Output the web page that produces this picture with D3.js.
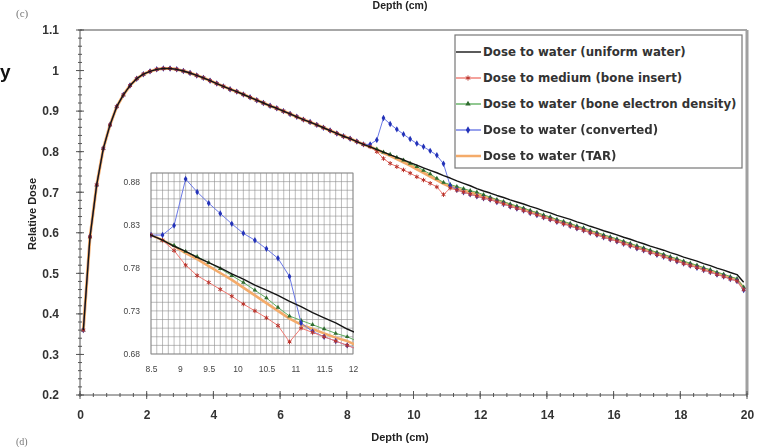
<!DOCTYPE html>
<html>
<head>
<meta charset="utf-8">
<script src="https://cdn.jsdelivr.net/npm/d3@7"></script>
<style>
  body { margin: 0; background: #fff; }
  svg { display: block; filter: blur(0.3px); }
</style>
</head>
<body>
<div id="chart"></div>
<script>
// depth of each point (cm)
const depth = [
  0.1, 0.3, 0.5, 0.7, 0.9, 1.1, 1.3, 1.5, 1.7, 1.9,
  2.1, 2.3, 2.5, 2.7, 2.9, 3.1, 3.3, 3.5, 3.7, 3.9,
  4.1, 4.3, 4.5, 4.7, 4.9, 5.1, 5.3, 5.5, 5.7, 5.9,
  6.1, 6.3, 6.5, 6.7, 6.9, 7.1, 7.3, 7.5, 7.7, 7.9,
  8.1, 8.3, 8.5, 8.7, 8.9, 9.1, 9.3, 9.5, 9.7, 9.9,
  10.1, 10.3, 10.5, 10.7, 10.9, 11.1, 11.3, 11.5, 11.7, 11.9,
  12.1, 12.3, 12.5, 12.7, 12.9, 13.1, 13.3, 13.5, 13.7, 13.9,
  14.1, 14.3, 14.5, 14.7, 14.9, 15.1, 15.3, 15.5, 15.7, 15.9,
  16.1, 16.3, 16.5, 16.7, 16.9, 17.1, 17.3, 17.5, 17.7, 17.9,
  18.1, 18.3, 18.5, 18.7, 18.9, 19.1, 19.3, 19.5, 19.7, 19.9
];

// all curves overlap before the insert (0.1 - 8.5 cm)
const buildUp = [
  0.360, 0.590, 0.718, 0.808, 0.866, 0.911, 0.940, 0.963, 0.980, 0.991,
  0.998, 1.003, 1.005, 1.005, 1.003, 0.999, 0.994, 0.988, 0.982, 0.975,
  0.968, 0.961, 0.954, 0.948, 0.941, 0.934, 0.927, 0.920, 0.913, 0.907,
  0.900, 0.893, 0.886, 0.879, 0.873, 0.866, 0.859, 0.852, 0.845, 0.838,
  0.832, 0.825, 0.818
];

// 8.7 - 19.9 cm
const waterTail = [
  0.812, 0.805, 0.799, 0.792, 0.786, 0.780, 0.773,
  0.767, 0.760, 0.754, 0.748, 0.741, 0.735, 0.728, 0.722, 0.716, 0.709,
  0.703, 0.698, 0.692, 0.687, 0.681, 0.676, 0.671, 0.665, 0.660, 0.654,
  0.649, 0.643, 0.638, 0.633, 0.627, 0.622, 0.616, 0.611, 0.605, 0.600,
  0.595, 0.589, 0.584, 0.578, 0.573, 0.567, 0.562, 0.557, 0.551, 0.546,
  0.540, 0.535, 0.530, 0.524, 0.519, 0.513, 0.508, 0.502, 0.497, 0.478
];
const mediumTail = [
  0.812, 0.800, 0.783, 0.771, 0.763, 0.755, 0.747,
  0.738, 0.730, 0.722, 0.713, 0.694, 0.710, 0.705, 0.700, 0.695, 0.690,
  0.685, 0.682, 0.676, 0.671, 0.665, 0.660, 0.655, 0.649, 0.644, 0.638,
  0.633, 0.627, 0.622, 0.617, 0.611, 0.606, 0.600, 0.595, 0.589, 0.584,
  0.579, 0.573, 0.568, 0.562, 0.557, 0.551, 0.546, 0.541, 0.535, 0.530,
  0.524, 0.519, 0.514, 0.508, 0.503, 0.497, 0.492, 0.486, 0.481, 0.460
];
const boneDensityTail = [
  0.812, 0.806, 0.799, 0.793, 0.786, 0.779, 0.771,
  0.763, 0.754, 0.745, 0.734, 0.724, 0.719, 0.714, 0.709, 0.704, 0.700,
  0.694, 0.688, 0.682, 0.677, 0.671, 0.666, 0.661, 0.655, 0.650, 0.644,
  0.639, 0.633, 0.628, 0.623, 0.617, 0.612, 0.606, 0.601, 0.595, 0.590,
  0.585, 0.579, 0.574, 0.568, 0.563, 0.557, 0.552, 0.547, 0.541, 0.536,
  0.530, 0.525, 0.520, 0.514, 0.509, 0.503, 0.498, 0.492, 0.487, 0.466
];
const convertedTail = [
  0.818, 0.829, 0.883, 0.868, 0.855, 0.843, 0.831,
  0.820, 0.812, 0.802, 0.791, 0.770, 0.716, 0.706, 0.700, 0.695, 0.690,
  0.685, 0.682, 0.676, 0.671, 0.665, 0.660, 0.655, 0.649, 0.644, 0.638,
  0.633, 0.627, 0.622, 0.617, 0.611, 0.606, 0.600, 0.595, 0.589, 0.584,
  0.579, 0.573, 0.568, 0.562, 0.557, 0.551, 0.546, 0.541, 0.535, 0.530,
  0.524, 0.519, 0.514, 0.508, 0.503, 0.497, 0.492, 0.486, 0.481, 0.459
];
const tarTail = [
  0.812, 0.805, 0.797, 0.790, 0.782, 0.774, 0.766,
  0.757, 0.748, 0.739, 0.730, 0.721, 0.714, 0.709, 0.704, 0.699, 0.695,
  0.689, 0.685, 0.679, 0.674, 0.668, 0.663, 0.658, 0.652, 0.647, 0.641,
  0.636, 0.630, 0.625, 0.620, 0.614, 0.609, 0.603, 0.598, 0.592, 0.587,
  0.582, 0.576, 0.571, 0.565, 0.560, 0.554, 0.549, 0.544, 0.538, 0.533,
  0.527, 0.522, 0.517, 0.511, 0.506, 0.500, 0.495, 0.489, 0.484, 0.463
];

const seriesNames = [
  "Dose to water (uniform water)",
  "Dose to medium (bone insert)",
  "Dose to water (bone electron density)",
  "Dose to water (converted)",
  "Dose to water (TAR)"
];

const xTicks = [0, 2, 4, 6, 8, 10, 12, 14, 16, 18, 20];
const yTicks = [0.2, 0.3, 0.4, 0.5, 0.6, 0.7, 0.8, 0.9, 1.0, 1.1];
const insetXTicks = [8.5, 9, 9.5, 10, 10.5, 11, 11.5, 12];
const insetYTicks = [0.68, 0.73, 0.78, 0.83, 0.88];

// drawing order: TAR band underneath, black water line on top
const series = [
  { name: seriesNames[4], values: buildUp.concat(tarTail), line: "#f4ab6a", width: 3, marker: null },
  { name: seriesNames[2], values: buildUp.concat(boneDensityTail), line: "#62b062", width: 1, marker: d3.symbolTriangle, mark: "#2f6b2f", size: 9 },
  { name: seriesNames[3], values: buildUp.concat(convertedTail), line: "#6b79e6", width: 1, marker: d3.symbolDiamond, mark: "#2332b8", size: 12 },
  { name: seriesNames[1], values: buildUp.concat(mediumTail), line: "#f07a72", width: 1, marker: d3.symbolAsterisk, mark: "#b8322a", size: 14 },
  { name: seriesNames[0], values: buildUp.concat(waterTail), line: "#151515", width: 1.4, marker: null }
];

const width = 761, height = 447;
const svg = d3.select("#chart").append("svg")
    .attr("width", width)
    .attr("height", height)
    .style("font-family", "'Liberation Sans', Arial, sans-serif");

const x = d3.scaleLinear().domain([0, 20]).range([80, 747]);
const y = d3.scaleLinear().domain([0.2, 1.1]).range([395, 30]);

// bits of the neighbouring panels
svg.append("text").attr("x", 400).attr("y", 9).attr("text-anchor", "middle")
    .style("font-size", "10.5px").style("font-weight", "bold").attr("fill", "#222").text("Depth (cm)");
svg.append("text").attr("x", 16).attr("y", 17)
    .style("font-size", "11px").style("font-family", "'Liberation Serif', serif").attr("fill", "#777").text("(c)");
svg.append("text").attr("x", 16).attr("y", 445)
    .style("font-size", "10px").style("font-family", "'Liberation Serif', serif").attr("fill", "#777").text("(d)");
svg.append("text").attr("x", 0).attr("y", 78)
    .style("font-size", "19px").style("font-weight", "bold").attr("fill", "#111").text("y");

// plot frame
svg.append("line").attr("x1", 80).attr("x2", 747).attr("y1", 30).attr("y2", 30)
    .attr("stroke", "#8a8a8a").attr("stroke-width", 1.5);
svg.append("line").attr("x1", 747).attr("x2", 747).attr("y1", 30).attr("y2", 395)
    .attr("stroke", "#a0a0a0").attr("stroke-width", 3);

// axes lines + crossing ticks
const axisG = svg.append("g").attr("stroke", "#555");
axisG.append("line").attr("x1", 80).attr("x2", 80).attr("y1", 30).attr("y2", 395);
axisG.append("line").attr("x1", 80).attr("x2", 747).attr("y1", 395).attr("y2", 395);

axisG.selectAll(".ymin").data(y.ticks(45)).join("line")
    .attr("x1", 78).attr("x2", 82).attr("y1", d => y(d)).attr("y2", d => y(d));
axisG.selectAll(".ymaj").data(yTicks).join("line")
    .attr("x1", 76).attr("x2", 84).attr("y1", d => y(d)).attr("y2", d => y(d));
axisG.selectAll(".xmin").data(d3.range(0, 20.01, 0.4)).join("line")
    .attr("y1", 393).attr("y2", 397).attr("x1", d => x(d)).attr("x2", d => x(d));
axisG.selectAll(".xmaj").data(xTicks).join("line")
    .attr("y1", 391).attr("y2", 399).attr("x1", d => x(d)).attr("x2", d => x(d));

// tick labels
const yAxis = svg.append("g").attr("transform", "translate(62,0)")
    .call(d3.axisLeft(y).tickValues(yTicks).tickSize(0).tickFormat(d => String(+d.toFixed(1))));
const xAxis = svg.append("g").attr("transform", "translate(0,407)")
    .call(d3.axisBottom(x).tickValues(xTicks).tickSize(0));
[xAxis, yAxis].forEach(g => {
  g.select(".domain").remove();
  g.selectAll("text").style("font-size", "12px").style("font-weight", "bold")
    .style("font-family", "'Liberation Sans', Arial, sans-serif").attr("fill", "#333");
});

// axis titles
svg.append("text").attr("x", 400).attr("y", 441).attr("text-anchor", "middle")
    .style("font-size", "11px").style("font-weight", "bold").attr("fill", "#222").text("Depth (cm)");
svg.append("text").attr("transform", "translate(36,214) rotate(-90)").attr("text-anchor", "middle")
    .style("font-size", "11px").style("font-weight", "bold").attr("fill", "#222").text("Relative Dose");

// curves
function drawSeries(g, sx, sy, s) {
  const line = d3.line().x((d, i) => sx(depth[i])).y(d => sy(d));
  g.append("path").datum(s.values)
    .attr("d", line)
    .attr("fill", "none")
    .attr("stroke", s.line)
    .attr("stroke-width", s.width)
    .attr("stroke-linejoin", "round");
  if (s.marker) {
    const sym = d3.symbol().type(s.marker).size(s.size);
    const stroked = s.marker === d3.symbolAsterisk;
    g.selectAll(null).data(s.values).join("path")
      .attr("transform", (d, i) => `translate(${sx(depth[i])},${sy(d)})`)
      .attr("d", sym)
      .attr("fill", stroked ? "none" : s.mark)
      .attr("stroke", stroked ? s.mark : "none")
      .attr("stroke-width", 1);
  }
}

const mainG = svg.append("g");
series.forEach(s => drawSeries(mainG, x, y, s));

// legend
const legend = svg.append("g");
legend.append("rect").attr("x", 455).attr("y", 35).attr("width", 287).attr("height", 133)
    .attr("fill", "#fff").attr("stroke", "#777").attr("stroke-width", 1.2);
[0, 1, 2, 3, 4].forEach(i => {
  const s = series.find(d => d.name === seriesNames[i]);
  const yy = 52 + i * 26;
  legend.append("line").attr("x1", 456).attr("x2", 481).attr("y1", yy).attr("y2", yy)
    .attr("stroke", s.line).attr("stroke-width", s.width === 3 ? 2.5 : 1.4);
  if (s.marker) {
    const stroked = s.marker === d3.symbolAsterisk;
    legend.append("path").attr("transform", `translate(468,${yy})`)
      .attr("d", d3.symbol().type(s.marker).size(s.size + 4))
      .attr("fill", stroked ? "none" : s.mark)
      .attr("stroke", stroked ? s.mark : "none");
  }
  legend.append("text").attr("x", 483).attr("y", yy + 4)
    .style("font-family", "'DejaVu Sans', sans-serif").style("font-size", "11.8px")
    .style("font-weight", "bold").attr("fill", "#333")
    .text(s.name);
});

// inset
const ix = d3.scaleLinear().domain([8.5, 12]).range([151, 353]);
const iy = d3.scaleLinear().domain([0.68, 0.89]).range([354, 173]);
const inset = svg.append("g");
inset.append("rect").attr("x", 151).attr("y", 173).attr("width", 202).attr("height", 181).attr("fill", "#fff");

inset.append("g").selectAll("line").data(ix.ticks(35)).join("line")
    .attr("x1", d => ix(d)).attr("x2", d => ix(d)).attr("y1", 173).attr("y2", 354)
    .attr("stroke", "#8f8f8f").attr("stroke-width", 0.6);
inset.append("g").selectAll("line").data(iy.ticks(21)).join("line")
    .attr("y1", d => iy(d)).attr("y2", d => iy(d)).attr("x1", 151).attr("x2", 353)
    .attr("stroke", "#8f8f8f").attr("stroke-width", 0.6);
inset.append("rect").attr("x", 151).attr("y", 173).attr("width", 202).attr("height", 181)
    .attr("fill", "none").attr("stroke", "#888").attr("stroke-width", 0.8);

svg.append("clipPath").attr("id", "insetClip")
  .append("rect").attr("x", 150).attr("y", 172).attr("width", 204).attr("height", 183);
const insetData = inset.append("g").attr("clip-path", "url(#insetClip)");
series.forEach(s => drawSeries(insetData, ix, iy, Object.assign({}, s, { width: s.width === 3 ? 2.5 : s.width })));

const ixAxis = inset.append("g").attr("transform", "translate(0,363)")
    .call(d3.axisBottom(ix).tickValues(insetXTicks).tickSize(0).tickFormat(d => String(d)));
const iyAxis = inset.append("g").attr("transform", "translate(143,0)")
    .call(d3.axisLeft(iy).tickValues(insetYTicks).tickSize(0).tickFormat(d3.format(".2f")));
[ixAxis, iyAxis].forEach(g => {
  g.select(".domain").remove();
  g.selectAll("text").style("font-size", "8.5px")
    .style("font-family", "'Liberation Sans', Arial, sans-serif").attr("fill", "#444");
});
</script>
</body>
</html>
